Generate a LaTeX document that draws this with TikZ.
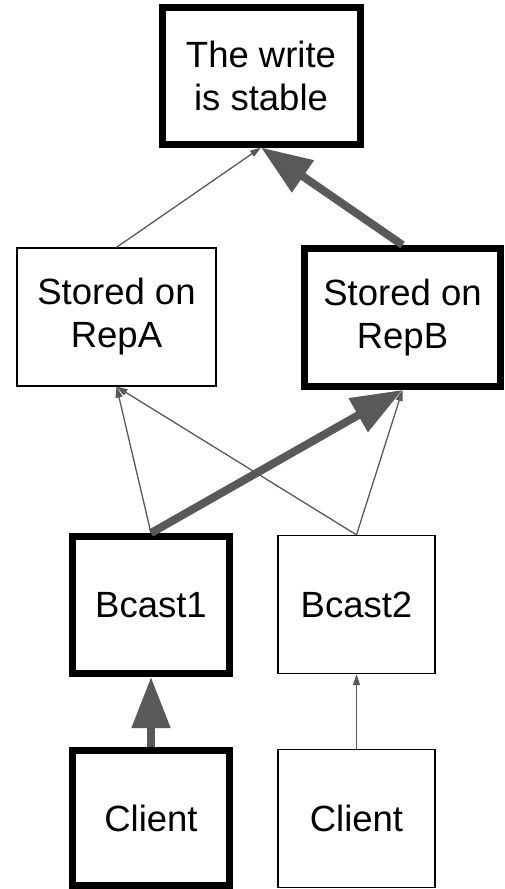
\documentclass[tikz,border=0pt]{standalone}
\usepackage{fontspec}
\setmainfont{Liberation Sans}
\usetikzlibrary{arrows.meta}

\begin{document}
\begin{tikzpicture}[x=1pt, y=-1pt,
    box/.style={draw, line width=1.3pt, align=center, inner sep=0pt,
      font=\fontsize{36.5}{43}\selectfont},
    hot/.style={box, line width=7pt},
    weak/.style={draw=black!65, line width=1.3pt, -{Triangle[length=11pt,width=7pt]}},
    strong/.style={draw=black!65, line width=8pt, -{Triangle[length=51pt,width=37pt]}}]
    \useasboundingbox (0,0) rectangle (504,889);
    \node[hot, minimum width=198pt, minimum height=137pt] (stable) at (261,75.5) {The write\\is stable};
    \node[box, minimum width=199pt, minimum height=138pt] (repA) at (116.5,317) {Stored on\\RepA};
    \node[hot, minimum width=195.5pt, minimum height=138pt] (repB) at (402.5,317.5) {Stored on\\RepB};
    \node[hot, minimum width=157pt, minimum height=137pt] (bcastA) at (151,605) {Bcast1};
    \node[box, minimum width=157pt, minimum height=138pt] (bcastB) at (356.5,604.5) {Bcast2};
    \node[hot, minimum width=157pt, minimum height=135pt] (clientA) at (151,818) {Client};
    \node[box, minimum width=157pt, minimum height=138pt] (clientB) at (356.5,818.5) {Client};
    \draw[strong] (clientA.north) -- (bcastA.south);
    \draw[weak] (clientB.north) -- (bcastB.south);
    \draw[weak] (bcastA.north) -- (repA.south);
    \draw[weak] (bcastB.north) -- (repA.south);
    \draw[weak] (bcastB.north) -- (repB.south);
    \draw[strong] (bcastA.north) -- (repB.south);
    \draw[weak] (repA.north) -- (stable.south);
    \draw[strong] (repB.north) -- (stable.south);
\end{tikzpicture}
\end{document}
